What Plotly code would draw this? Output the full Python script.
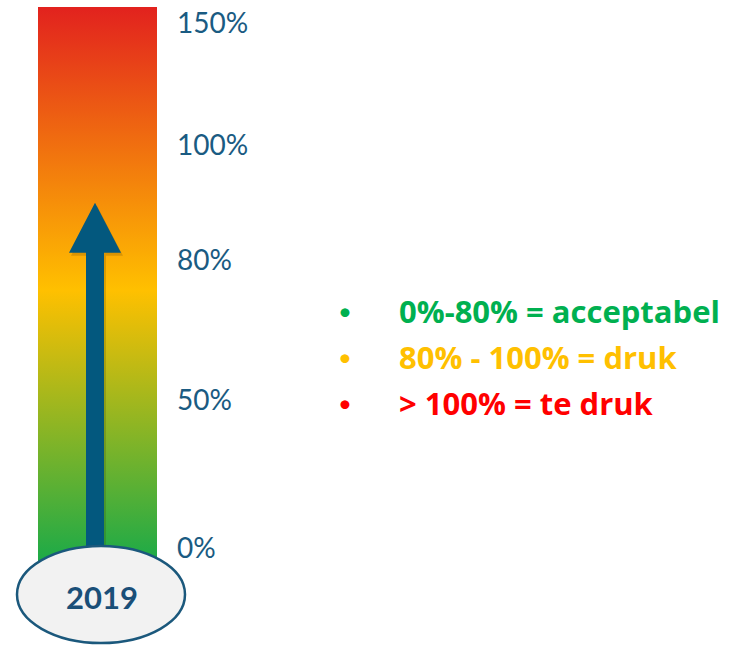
import numpy as np
import plotly.graph_objects as go

# ---------------- data ----------------
TICK_VALUES = [0, 50, 80, 100, 150]
TICK_LABELS = ["0%", "50%", "80%", "100%", "150%"]
ARROW_VALUE = 90
YEAR_LABEL = "2019"
LEGEND_TEXTS = ["0%-80% = acceptabel", "80% - 100% = druk", "> 100% = te druk"]
LEGEND_COLORS = ["#00B050", "#FFC000", "#FF0000"]

# ---------------- style / layout ----------------
W, H = 737, 645
TICK_DISPLAY = [0, 148, 288.5, 403, 525.5]   # non-linear display scale (px above 0%)
ZERO_PX = 548.5                               # pixel row of 0%
BAR_LEFT, BAR_W = 38, 119                     # pixel extents of the gauge bar
BAR_BOTTOM_PAD, BAR_TOP_PAD = 14, 16
TEXT_BLUE = "#1A5B82"
ARROW_BLUE = "#03587E"
FONT = "Lato"
LEGEND_FONT = "Open Sans"


def gauge(p):
    return float(np.interp(p, TICK_VALUES, TICK_DISPLAY))


def px_x(px):
    return (px - BAR_LEFT) / BAR_W


fig = go.Figure()

# gradient bar
g_bot = gauge(TICK_VALUES[0]) - BAR_BOTTOM_PAD
g_top = gauge(TICK_VALUES[-1]) + BAR_TOP_PAD
fig.add_trace(go.Scatter(
    x=[0, 1, 1, 0, 0], y=[g_bot, g_bot, g_top, g_top, g_bot],
    mode="lines", line=dict(width=0), fill="toself",
    fillgradient=dict(type="vertical",
                      colorscale=[[0, "#1BAA48"], [0.49, "#FFC000"], [1, "#E2221E"]]),
    hoverinfo="skip", showlegend=False))

# arrow
tip = gauge(ARROW_VALUE)
head_len = 50
sx0, sx1 = px_x(86), px_x(104)
hx0, hx1 = px_x(69), px_x(121)
base = gauge(TICK_VALUES[0])
ax = [sx0, sx0, hx0, (hx0 + hx1) / 2, hx1, sx1, sx1, sx0]
ay = [base, tip - head_len, tip - head_len, tip, tip - head_len, tip - head_len, base, base]
shift = 2 / BAR_W
fig.add_trace(go.Scatter(
    x=[v + shift for v in ax], y=[v - 3 for v in ay], mode="lines", line=dict(width=0),
    fill="toself", fillcolor="rgba(60,40,0,0.18)", hoverinfo="skip", showlegend=False))
fig.add_trace(go.Scatter(
    x=ax, y=ay, mode="lines", line=dict(width=0), fill="toself",
    fillcolor=ARROW_BLUE, hoverinfo="skip", showlegend=False))

# ellipse with year
fig.add_shape(type="circle", xref="x", yref="y",
              x0=px_x(17), x1=px_x(185), y0=ZERO_PX - 643, y1=ZERO_PX - 546,
              fillcolor="#F2F2F2", line=dict(color="#1B587C", width=2.5), layer="above")
fig.add_annotation(x=px_x(102), y=ZERO_PX - 597, xref="x", yref="y", text=f"<b>{YEAR_LABEL}</b>",
                   showarrow=False, font=dict(family=FONT, size=31, color="#1A4F78"),
                   xanchor="center", yanchor="middle")

# legend text
rows_y = [311, 357, 403]
for txt, col, ry in zip(LEGEND_TEXTS, LEGEND_COLORS, rows_y):
    fig.add_annotation(x=345 / W, y=1 - (ry - 1) / H, xref="paper", yref="paper",
                       text="•", showarrow=False, xanchor="center", yanchor="middle",
                       font=dict(family=FONT, size=24, color=col))
    fig.add_annotation(x=397 / W, y=1 - ry / H, xref="paper", yref="paper",
                       text=f"<b>{txt}</b>", showarrow=False, xanchor="left", yanchor="middle",
                       font=dict(family=LEGEND_FONT, size=31, color=col))

fig.update_layout(
    width=W, height=H, margin=dict(l=0, r=0, t=0, b=0),
    paper_bgcolor="white", plot_bgcolor="white", showlegend=False, hovermode=False,
    xaxis=dict(range=[px_x(0), px_x(W)], domain=[0, 1], visible=False, fixedrange=True),
    yaxis=dict(range=[ZERO_PX - H, ZERO_PX], domain=[0, 1], anchor="free",
               position=176 / W, side="right", showgrid=False, zeroline=False,
               showline=False, ticks="", tickvals=[gauge(v) for v in TICK_VALUES],
               ticktext=TICK_LABELS, tickfont=dict(family=FONT, size=28, color=TEXT_BLUE),
               fixedrange=True),
)

fig.write_html("out.html")
